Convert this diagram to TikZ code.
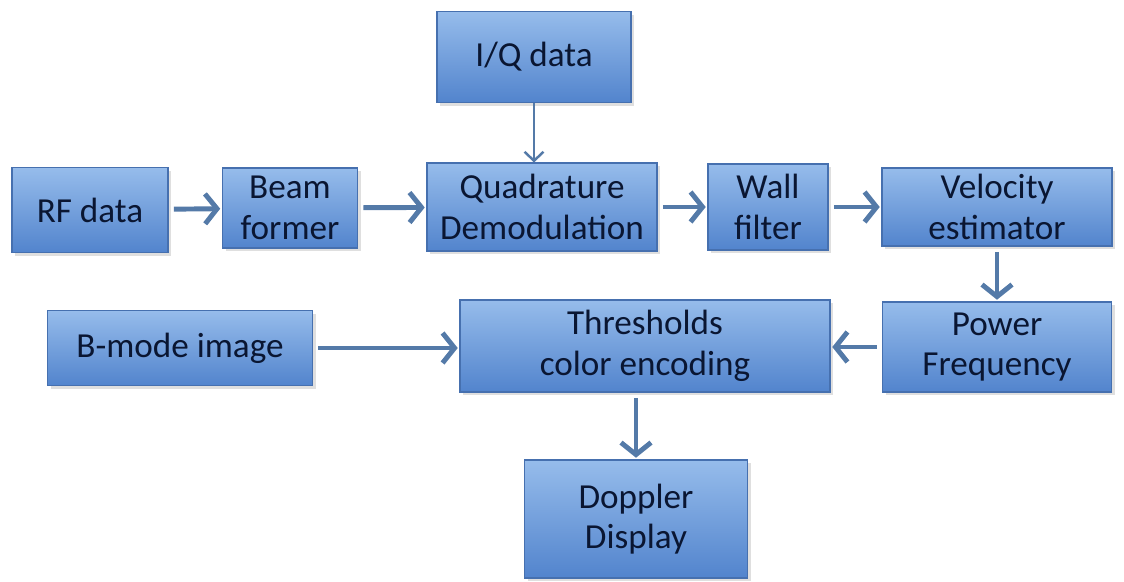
\documentclass[tikz,border=0pt]{standalone}
\usepackage{fontspec}
\setmainfont{Carlito}
\usepackage{tikz}
\usetikzlibrary{arrows.meta,shadows}
\definecolor{boxtop}{RGB}{150,188,235}
\definecolor{boxbottom}{RGB}{82,132,205}
\definecolor{boxedge}{RGB}{70,112,175}
\definecolor{boxtext}{RGB}{10,22,50}
\definecolor{arrowblue}{RGB}{84,122,168}
\tikzset{
  blockbox/.style={draw=boxedge,line width=0.6pt,top color=boxtop,bottom color=boxbottom,
    text=boxtext,align=center,font=\fontsize{20}{23}\selectfont,inner sep=2pt,
    drop shadow={opacity=0.25,shadow xshift=0.6mm,shadow yshift=-0.6mm}},
  flowarrow/.style={arrowblue,line width=2.8pt,-{Straight Barb[length=2.4mm,width=6mm]},
    shorten <=3pt,shorten >=1pt}
}
\begin{document}
\begin{tikzpicture}
        \useasboundingbox (0,0) rectangle (22.48,11.62);
        % top row
        \node[blockbox,minimum width=3.88cm,minimum height=1.82cm] (iq) at (10.68,10.48) {I/Q data};
        \node[blockbox,minimum width=3.12cm,minimum height=1.70cm] (rf) at (1.80,7.42) {RF data};
        \node[blockbox,minimum width=2.70cm,minimum height=1.60cm] (beam) at (5.80,7.46) {Beam\\former};
        \node[blockbox,minimum width=4.60cm,minimum height=1.76cm] (quad) at (10.84,7.48) {Quadrature\\Demodulation};
        \node[blockbox,minimum width=2.40cm,minimum height=1.72cm] (wall) at (15.36,7.48) {Wall\\filter};
        \node[blockbox,minimum width=4.60cm,minimum height=1.56cm] (velo) at (19.94,7.48) {Velocity\\estimator};
        % second row
        \node[blockbox,minimum width=5.30cm,minimum height=1.50cm] (bmode) at (3.60,4.66) {B-mode image};
        \node[blockbox,minimum width=7.40cm,minimum height=1.84cm] (thresh) at (12.90,4.70) {Thresholds\\color encoding};
        \node[blockbox,minimum width=4.58cm,minimum height=1.80cm] (power) at (19.94,4.68) {Power\\Frequency};
        \node[blockbox,minimum width=4.46cm,minimum height=2.36cm] (doppler) at (12.72,1.24) {Doppler\\Display};
        % connectors
        \draw[arrowblue,line width=1.4pt,-{Straight Barb[length=1.8mm,width=3.8mm]}] (iq) -- (iq |- quad.north);
        \foreach \a/\b in {rf/beam,beam/quad,quad/wall,wall/velo}
          \draw[flowarrow] (\a) -- (\b);
        \draw[flowarrow] (velo) -- (power);
        \draw[flowarrow] (power) -- (power -| thresh.east);
        \draw[flowarrow] (bmode.east) -- (bmode.east -| thresh.west);
        \draw[flowarrow] (thresh.south -| doppler) -- (doppler);
      \end{tikzpicture}
\end{document}
